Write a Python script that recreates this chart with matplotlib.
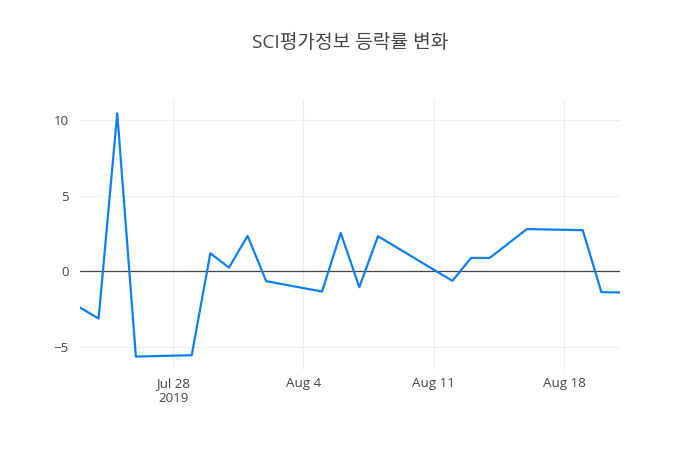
import matplotlib
matplotlib.use("Agg")
import matplotlib.pyplot as plt
import matplotlib.dates as mdates
import pandas as pd

plt.rcParams['font.family'] = ['Open Sans', 'Noto Sans CJK KR', 'DejaVu Sans']

dates = ["2019-07-23", "2019-07-24", "2019-07-25", "2019-07-26", "2019-07-29",
         "2019-07-30", "2019-07-31", "2019-08-01", "2019-08-02", "2019-08-05",
         "2019-08-06", "2019-08-07", "2019-08-08", "2019-08-12", "2019-08-13",
         "2019-08-14", "2019-08-16", "2019-08-19", "2019-08-20", "2019-08-21"]
changes = [-2.41, -3.14, 10.47, -5.66, -5.57,
           1.19, 0.24, 2.34, -0.66, -1.35,
           2.54, -1.06, 2.32, -0.64, 0.88,
           0.88, 2.79, 2.72, -1.39, -1.41]
tick_dates = ["2019-07-28", "2019-08-04", "2019-08-11", "2019-08-18"]
tick_labels = ["Jul 28\n2019", "Aug 4", "Aug 11", "Aug 18"]
y_ticks = [-5, 0, 5, 10]
y_labels = ["−5", "0", "5", "10"]
title = "SCI평가정보 등락률 변화"

x = pd.to_datetime(dates)

fig = plt.figure(figsize=(7, 4.5), dpi=100)
ax = fig.add_axes([80/700, 80/450, 540/700, 270/450])

text_color = "#444444"
ax.plot(x, changes, color="#0f7ff0", linewidth=1.6, zorder=3)
ax.axhline(0, color=text_color, linewidth=0.9, zorder=2)

ax.set_xlim(x[0], x[-1])
ax.set_ylim(-6.55, 11.35)

ax.set_xticks(pd.to_datetime(tick_dates))
ax.set_xticklabels(tick_labels)
ax.set_yticks(y_ticks)
ax.set_yticklabels(y_labels)
ax.tick_params(axis='both', length=0, labelsize=9.6, labelcolor=text_color)
ax.tick_params(axis='x', pad=5)
ax.tick_params(axis='y', pad=8)
for lbl in ax.get_xticklabels():
    lbl.set_linespacing(1.25)

ax.grid(True, color="#eeeeee", linewidth=0.8)
ax.set_axisbelow(True)
for s in ax.spines.values():
    s.set_visible(False)

fig.text(350/700, 1 - 43/450, title, ha='center', va='center',
         fontsize=13.8, color=text_color)

fig.savefig("out.png", dpi=100, facecolor="white")
